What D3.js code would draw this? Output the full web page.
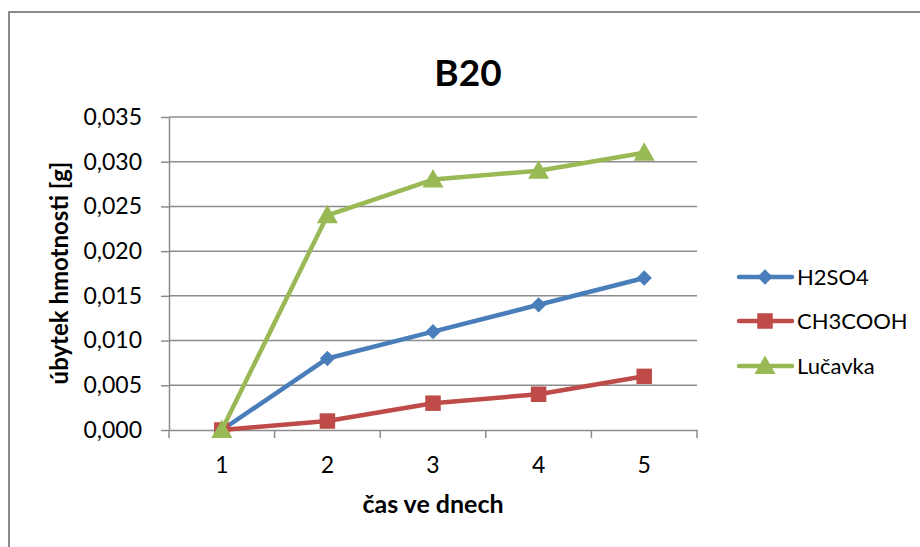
<!DOCTYPE html>
<html>
<head>
<meta charset="utf-8">
<script src="https://cdn.jsdelivr.net/npm/d3@7"></script>
<style>
  html, body { margin: 0; padding: 0; background: #fff; }
  svg { display: block; font-family: Lato, "Open Sans", sans-serif; }
</style>
</head>
<body>
<svg id="chart" width="920" height="547"></svg>
<script>
// Days of measurement
const days = [1, 2, 3, 4, 5];
// Mass loss [g] per solution
const h2so4 = [0.000, 0.008, 0.011, 0.014, 0.017];
const ch3cooh = [0.000, 0.001, 0.003, 0.004, 0.006];
const lucavka = [0.000, 0.024, 0.028, 0.029, 0.031];
const seriesNames = ["H2SO4", "CH3COOH", "Lučavka"];
const yTicks = [0, 0.005, 0.010, 0.015, 0.020, 0.025, 0.030, 0.035];

const series = [
  { name: seriesNames[0], values: h2so4, color: "#4a7ebb", marker: "diamond" },
  { name: seriesNames[1], values: ch3cooh, color: "#be4b48", marker: "square" },
  { name: seriesNames[2], values: lucavka, color: "#98b954", marker: "triangle" }
];

const svg = d3.select("#chart");
const gridColor = "#8c8c8c";

// chart frame
svg.append("rect")
  .attr("x", 9).attr("y", 12)
  .attr("width", 930).attr("height", 560)
  .attr("fill", "#fff")
  .attr("stroke", "#8a8a8a").attr("stroke-width", 2);

const plot = { left: 169, right: 697, top: 117, bottom: 430 };

const x = d3.scaleBand().domain(days).range([plot.left, plot.right]);
const y = d3.scaleLinear().domain([0, 0.035]).range([plot.bottom, plot.top]);
const fmt = v => d3.format(".3f")(v).replace(".", ",");

// horizontal gridlines
svg.append("g").selectAll("line").data(yTicks.slice(1)).join("line")
  .attr("x1", plot.left).attr("x2", plot.right)
  .attr("y1", d => y(d)).attr("y2", d => y(d))
  .attr("stroke", gridColor).attr("stroke-width", 1.5);

// y axis
const yAxis = svg.append("g")
  .attr("transform", `translate(${plot.left},0)`)
  .call(d3.axisLeft(y).tickValues(yTicks).tickFormat(fmt).tickSizeInner(8).tickSizeOuter(0).tickPadding(19));
yAxis.select(".domain").attr("stroke", gridColor).attr("stroke-width", 1.5);
yAxis.selectAll(".tick line").attr("stroke", gridColor).attr("stroke-width", 1.5);
yAxis.selectAll(".tick text").attr("font-size", 23).attr("fill", "#000").attr("font-family", "Lato, sans-serif");

// x axis
const xAxis = svg.append("g")
  .attr("transform", `translate(0,${plot.bottom})`)
  .call(d3.axisBottom(x).tickSize(0).tickPadding(27));
xAxis.select(".domain").attr("stroke", gridColor).attr("stroke-width", 1.5);
xAxis.selectAll(".tick text").attr("font-size", 23).attr("fill", "#000").attr("font-family", "Lato, sans-serif");
// category boundary ticks
const bounds = days.map(d => x(d)).concat([plot.right]);
svg.append("g").selectAll("line").data(bounds).join("line")
  .attr("x1", d => d).attr("x2", d => d)
  .attr("y1", plot.bottom).attr("y2", plot.bottom + 8)
  .attr("stroke", gridColor).attr("stroke-width", 1.5);

// titles
svg.append("text")
  .attr("x", 468).attr("y", 86)
  .attr("text-anchor", "middle")
  .attr("font-size", 37).attr("font-weight", "bold")
  .text("B20");

svg.append("text")
  .attr("transform", "translate(68,273) rotate(-90)")
  .attr("text-anchor", "middle")
  .attr("font-size", 24).attr("font-weight", "bold")
  .text("úbytek hmotnosti [g]");

svg.append("text")
  .attr("x", 433).attr("y", 513)
  .attr("text-anchor", "middle")
  .attr("font-size", 25).attr("font-weight", "bold")
  .text("čas ve dnech");

// marker shapes
function markerPath(type) {
  if (type === "diamond") return d3.symbol(d3.symbolDiamond2, 150)();
  if (type === "square") return d3.symbol(d3.symbolSquare, 240)();
  return "M0,-10.5L10.5,8L-10.5,8Z";
}

const cx = d => x(d) + x.bandwidth() / 2;
const line = d3.line().x((v, i) => cx(days[i])).y(v => y(v));

series.forEach(s => {
  const g = svg.append("g");
  g.append("path")
    .datum(s.values)
    .attr("d", line)
    .attr("fill", "none")
    .attr("stroke", s.color)
    .attr("stroke-width", 4.5)
    .attr("stroke-linejoin", "round")
    .attr("stroke-linecap", "round");
  g.selectAll("path.m").data(s.values).join("path")
    .attr("class", "m")
    .attr("transform", (v, i) => `translate(${cx(days[i])},${y(v)})`)
    .attr("d", markerPath(s.marker))
    .attr("fill", s.color);
});

// legend
const legend = svg.append("g");
const legY = [277, 321, 366];
series.forEach((s, i) => {
  const g = legend.append("g").attr("transform", `translate(0,${legY[i]})`);
  g.append("line")
    .attr("x1", 739).attr("x2", 792)
    .attr("stroke", s.color).attr("stroke-width", 4.5)
    .attr("stroke-linecap", "round");
  g.append("path")
    .attr("transform", "translate(765,0)")
    .attr("d", markerPath(s.marker))
    .attr("fill", s.color);
  g.append("text")
    .attr("x", 797).attr("y", 8)
    .attr("font-size", 22)
    .text(s.name);
});
</script>
</body>
</html>
